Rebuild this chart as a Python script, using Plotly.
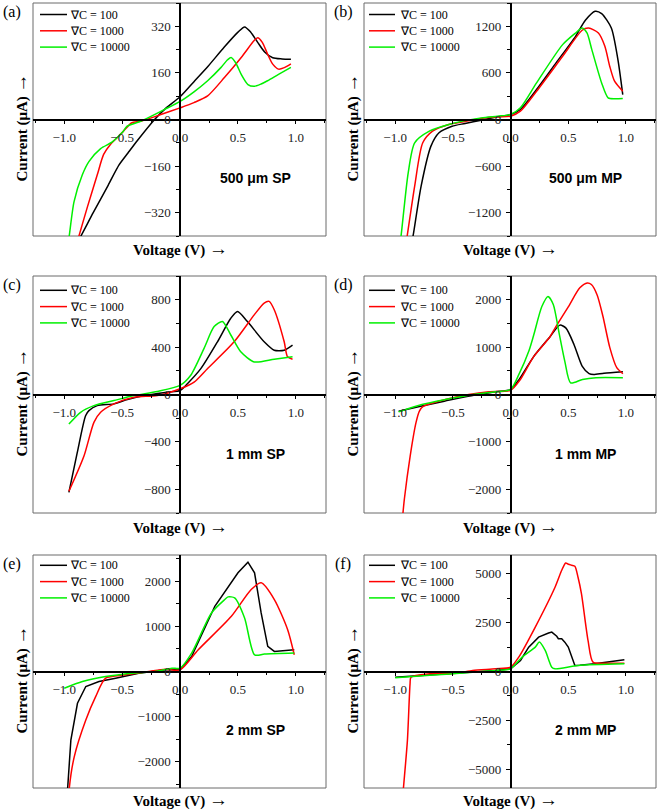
import plotly.graph_objects as go

W, H = 661, 811

SERIES_NAMES = ["∇C = 100", "∇C = 1000", "∇C = 10000"]
SERIES_COLORS = ["#000000", "#ff0000", "#00f000"]
X_RANGE = [-1.27, 1.26]
X_TICK_STEP = 0.5

# ---------------- (a) 500 µm SP ----------------
a_x100 = [-0.90, -0.867, -0.75, -0.62, -0.527, -0.45, -0.37, -0.22, -0.12, 0.0, 0.12, 0.24, 0.38, 0.50, 0.557, 0.61, 0.67, 0.73, 0.80, 0.88, 0.957]
a_y100 = [-430, -408, -320, -225, -156, -115, -73, 0, 40, 78, 130, 182, 248, 300, 318, 300, 265, 232, 212, 208, 207]
a_x1000 = [-0.895, -0.879, -0.80, -0.715, -0.66, -0.60, -0.50, -0.42, -0.34, -0.166, 0.0, 0.12, 0.238, 0.383, 0.528, 0.64, 0.67, 0.71, 0.755, 0.80, 0.85, 0.90, 0.957]
a_y1000 = [-430, -408, -300, -190, -120, -85, -45, -12, -6, 17, 40, 58, 81, 144, 213, 271, 281, 265, 225, 190, 173, 178, 191]
a_x10000 = [-0.975, -0.96, -0.916, -0.844, -0.786, -0.686, -0.588, -0.50, -0.457, -0.34, -0.137, 0.0, 0.12, 0.238, 0.354, 0.41, 0.44, 0.48, 0.528, 0.586, 0.64, 0.70, 0.755, 0.85, 0.957]
a_y10000 = [-440, -408, -283, -190, -144, -100, -78, -45, -23, -6, 34, 62, 95, 133, 179, 205, 213, 195, 155, 120, 114, 122, 133, 155, 179]

# ---------------- (b) 500 µm MP ----------------
b_x100 = [-0.868, -0.845, -0.775, -0.690, -0.62, -0.507, -0.394, -0.254, -0.113, 0.0, 0.085, 0.225, 0.394, 0.563, 0.648, 0.732, 0.789, 0.873, 0.93, 0.972]
b_y100 = [-1671, -1500, -857, -343, -171, -86, -51, -9, 34, 64, 129, 386, 729, 1071, 1277, 1393, 1363, 1179, 771, 321]
b_x1000 = [-0.915, -0.896, -0.831, -0.761, -0.676, -0.535, -0.394, -0.254, -0.113, 0.0, 0.085, 0.225, 0.451, 0.62, 0.676, 0.761, 0.817, 0.859, 0.901, 0.972]
b_y1000 = [-1671, -1500, -857, -300, -150, -64, -26, 13, 34, 43, 107, 364, 814, 1149, 1179, 1114, 943, 686, 493, 364]
b_x10000 = [-0.966, -0.949, -0.887, -0.831, -0.704, -0.535, -0.254, -0.113, 0.0, 0.085, 0.225, 0.451, 0.563, 0.62, 0.662, 0.704, 0.789, 0.845, 0.901, 0.972]
b_y10000 = [-1671, -1500, -686, -300, -150, -64, 21, 43, 64, 150, 471, 964, 1114, 1179, 1114, 900, 471, 279, 266, 270]

# ---------------- (c) 1 mm SP ----------------
c_x100 = [-0.96, -0.888, -0.816, -0.787, -0.715, -0.571, -0.455, -0.311, -0.11, 0.0, 0.063, 0.179, 0.323, 0.438, 0.496, 0.582, 0.726, 0.813, 0.899, 0.971]
c_y100 = [-826, -491, -179, -136, -94, -79, -43, -9, 20, 34, 91, 218, 445, 644, 700, 615, 445, 374, 374, 417]
c_x1000 = [-0.96, -0.83, -0.744, -0.686, -0.571, -0.398, -0.196, 0.0, 0.121, 0.236, 0.467, 0.64, 0.726, 0.769, 0.813, 0.899, 0.928, 0.971]
c_y1000 = [-817, -519, -235, -150, -79, -23, -9, 48, 105, 218, 445, 672, 772, 786, 715, 445, 318, 298]
c_x10000 = [-0.96, -0.859, -0.744, -0.571, -0.398, -0.196, 0.0, 0.092, 0.207, 0.294, 0.366, 0.438, 0.524, 0.64, 0.813, 0.971]
c_y10000 = [-250, -150, -94, -51, -9, 26, 77, 162, 389, 573, 616, 502, 360, 275, 298, 318]

# ---------------- (d) 1 mm MP ----------------
d_x100 = [-0.97, -0.779, -0.574, -0.368, -0.132, 0.0, 0.074, 0.2, 0.34, 0.427, 0.48, 0.55, 0.62, 0.68, 0.72, 0.81, 0.973]
d_y100 = [-353, -247, -141, -35, 57, 106, 318, 800, 1213, 1464, 1400, 1050, 600, 440, 420, 450, 481]
d_x1000 = [-0.94, -0.92, -0.87, -0.82, -0.79, -0.754, -0.565, -0.362, -0.188, 0.0, 0.08, 0.2, 0.34, 0.39, 0.5, 0.6, 0.664, 0.70, 0.75, 0.80, 0.86, 0.92, 0.973]
d_y1000 = [-2700, -2200, -1300, -600, -350, -247, -106, 0, 60, 90, 300, 800, 1213, 1420, 1850, 2250, 2354, 2320, 2100, 1650, 989, 565, 438]
d_x10000 = [-0.97, -0.768, -0.565, -0.362, -0.13, 0.0, 0.072, 0.16, 0.2, 0.27, 0.324, 0.37, 0.42, 0.47, 0.52, 0.623, 0.74, 0.973]
d_y10000 = [-367, -212, -106, -14, 57, 106, 424, 929, 1250, 1850, 2069, 1900, 1300, 700, 247, 318, 353, 353]

# ---------------- (e) 2 mm SP ----------------
e_x100 = [-0.975, -0.971, -0.943, -0.886, -0.814, -0.70, -0.557, -0.357, -0.129, 0.0, 0.1, 0.3, 0.5, 0.586, 0.643, 0.70, 0.757, 0.814, 0.986]
e_y100 = [-3000, -2593, -1518, -704, -333, -222, -148, -37, 37, 37, 333, 1444, 2185, 2422, 2185, 1296, 556, 444, 481]
e_x1000 = [-0.965, -0.957, -0.914, -0.814, -0.729, -0.643, -0.471, -0.271, -0.129, 0.0, 0.157, 0.443, 0.614, 0.70, 0.814, 0.929, 0.986]
e_y1000 = [-3000, -2593, -1889, -1074, -556, -148, -74, 0, 52, 37, 481, 1222, 1815, 1963, 1593, 926, 370]
e_x10000 = [-1.0, -0.843, -0.643, -0.414, -0.214, -0.071, 0.0, 0.1, 0.271, 0.386, 0.414, 0.471, 0.557, 0.643, 0.729, 0.986]
e_y10000 = [-370, -222, -111, -37, 0, 74, 74, 407, 1296, 1593, 1652, 1630, 1185, 370, 385, 407]

# ---------------- (f) 2 mm MP ----------------
f_x100 = [-1.0, -0.786, -0.557, -0.329, -0.129, 0.0, 0.086, 0.157, 0.243, 0.329, 0.357, 0.40, 0.414, 0.443, 0.47, 0.50, 0.557, 0.60, 0.729, 0.986]
f_y100 = [-290, -205, -120, -34, 51, 136, 563, 1245, 1757, 1962, 2013, 1800, 1672, 1672, 1500, 1245, 307, 320, 392, 597]
f_x1000 = [-0.935, -0.929, -0.894, -0.871, -0.863, -0.70, -0.471, -0.329, -0.129, 0.0, 0.071, 0.214, 0.386, 0.443, 0.477, 0.50, 0.529, 0.557, 0.585, 0.614, 0.671, 0.714, 0.814, 0.986]
f_y1000 = [-6500, -6005, -3531, -631, -290, -120, -85, 51, 136, 222, 734, 2269, 4316, 5169, 5545, 5480, 5425, 5374, 4800, 3975, 1587, 478, 427, 427]
f_x10000 = [-1.0, -0.786, -0.557, -0.329, -0.129, 0.0, 0.1, 0.214, 0.249, 0.3, 0.357, 0.386, 0.586, 0.986]
f_y10000 = [-324, -230, -140, -40, 50, 136, 734, 1245, 1501, 1075, 222, 136, 307, 392]

PANELS = [
    dict(letter="(a)", label="500 μm SP", yr=[-400, 400], dt=160,
         data=[(a_x100, a_y100), (a_x1000, a_y1000), (a_x10000, a_y10000)], spline=[True, True, True]),
    dict(letter="(b)", label="500 μm MP", yr=[-1500, 1500], dt=600,
         data=[(b_x100, b_y100), (b_x1000, b_y1000), (b_x10000, b_y10000)], spline=[True, True, True]),
    dict(letter="(c)", label="1 mm SP", yr=[-1000, 1000], dt=400,
         data=[(c_x100, c_y100), (c_x1000, c_y1000), (c_x10000, c_y10000)], spline=[True, True, True]),
    dict(letter="(d)", label="1 mm MP", yr=[-2500, 2500], dt=1000,
         data=[(d_x100, d_y100), (d_x1000, d_y1000), (d_x10000, d_y10000)], spline=[True, True, True]),
    dict(letter="(e)", label="2 mm SP", yr=[-2580, 2580], dt=1000,
         data=[(e_x100, e_y100), (e_x1000, e_y1000), (e_x10000, e_y10000)], spline=[False, True, True]),
    dict(letter="(f)", label="2 mm MP", yr=[-5950, 5950], dt=2500,
         data=[(f_x100, f_y100), (f_x1000, f_y1000), (f_x10000, f_y10000)], spline=[False, True, True]),
]

# layout geometry (pixels)
COLS = [(33, 326), (364, 656)]
ROWS = [(3, 236), (276, 513), (555, 788)]
LEGEND_ROW0 = [11.5, 14.3, 10.3]   # first legend row offset below panel top
LEGEND_STEP = 16.3
LEGEND_LINE = [(7, 34, 35), (5, 31, 34)]  # line start, line end, text start (from panel left)

def px_x(p):
    return p / W

def px_y(p):
    return 1 - p / H

fig = go.Figure()
layout = dict(width=W, height=H, margin=dict(l=0, r=0, t=0, b=0),
              paper_bgcolor="white", plot_bgcolor="white", shapes=[], annotations=[],
              showlegend=False)

SERIF = "Liberation Serif, Times New Roman, serif"
SANS = "Liberation Sans, Arial, sans-serif"
ARROW = '<span style="font-size:19px">→</span>'

for i, p in enumerate(PANELS):
    n = i + 1
    sfx = "" if n == 1 else str(n)
    ci, ri = i % 2, i // 2
    col = COLS[ci]
    row = ROWS[ri]
    xd = [px_x(col[0]), px_x(col[1])]
    yd = [px_y(row[1]), px_y(row[0])]
    yr = p["yr"]
    # paper positions of the zero lines
    xpos = xd[0] + (0 - X_RANGE[0]) / (X_RANGE[1] - X_RANGE[0]) * (xd[1] - xd[0])
    ypos = yd[0] + (0 - yr[0]) / (yr[1] - yr[0]) * (yd[1] - yd[0])
    tickfont = dict(family=SERIF, size=13, color="#222222")
    layout["xaxis" + sfx] = dict(
        domain=xd, range=X_RANGE, anchor="free", position=ypos,
        showline=True, linecolor="black", linewidth=1.5,
        ticks="outside", ticklen=4, tickwidth=1, tickcolor="black",
        tick0=0, dtick=X_TICK_STEP, tickformat=".1f",
        minor=dict(ticks="outside", ticklen=3, dtick=X_TICK_STEP / 2, tickcolor="black", showgrid=False),
        showgrid=False, zeroline=False, tickfont=tickfont, ticklabelstandoff=2,
    )
    layout["yaxis" + sfx] = dict(
        domain=yd, range=yr, anchor="free", position=xpos,
        showline=True, linecolor="black", linewidth=1.5,
        ticks="outside", ticklen=4, tickwidth=1, tickcolor="black",
        tick0=0, dtick=p["dt"],
        minor=dict(ticks="outside", ticklen=3, dtick=p["dt"] / 2, tickcolor="black", showgrid=False),
        showgrid=False, zeroline=False, tickfont=tickfont, ticklabelstandoff=2,
    )
    xref = "x" + sfx
    yref = "y" + sfx
    # frame
    layout["shapes"].append(dict(type="rect", xref=xref + " domain", yref=yref + " domain",
                                 x0=0, x1=1, y0=0, y1=1, line=dict(color="#6a6a6a", width=1),
                                 layer="below"))
    for k, (xs, ys) in enumerate(p["data"]):
        fig.add_trace(go.Scatter(
            x=xs, y=ys, mode="lines", name=SERIES_NAMES[k],
            line=dict(color=SERIES_COLORS[k], width=1.5,
                      shape="spline" if p["spline"][k] else "linear", smoothing=0.7),
            xaxis=xref, yaxis=yref, hoverinfo="skip",
        ))
        # legend key (drawn in paper space)
        ly = px_y(row[0] + LEGEND_ROW0[ri] + k * LEGEND_STEP)
        l0, l1, lt = LEGEND_LINE[ci]
        layout["shapes"].append(dict(type="line", xref="paper", yref="paper",
                                     x0=px_x(col[0] + l0), x1=px_x(col[0] + l1), y0=ly, y1=ly,
                                     line=dict(color=SERIES_COLORS[k], width=1.5)))
        layout["annotations"].append(dict(text=SERIES_NAMES[k], xref="paper", yref="paper",
                                          x=px_x(col[0] + lt), y=ly, xanchor="left", yanchor="middle",
                                          showarrow=False,
                                          font=dict(family=SERIF, size=12, color="black")))
    # panel letter
    layout["annotations"].append(dict(text=p["letter"], xref="paper", yref="paper",
                                      x=px_x(col[0] - 21), y=px_y(row[0] + 9),
                                      xanchor="center", yanchor="middle", showarrow=False,
                                      font=dict(family=SERIF, size=16, color="black")))
    # sample label
    layout["annotations"].append(dict(text="<b>" + p["label"] + "</b>", xref="paper", yref="paper",
                                      x=px_x(col[0] + 0.76 * (col[1] - col[0])),
                                      y=px_y(row[0] + 0.75 * (row[1] - row[0])),
                                      xanchor="center", yanchor="middle", showarrow=False,
                                      font=dict(family=SANS, size=14, color="black")))
    # axis titles
    layout["annotations"].append(dict(text="<b>Voltage (V) </b>" + ARROW, xref="paper", yref="paper",
                                      x=xpos, y=px_y(min(row[1] + 13, 799)),
                                      xanchor="center", yanchor="middle", showarrow=False,
                                      font=dict(family=SERIF, size=15, color="black")))
    layout["annotations"].append(dict(text="<b>Current (μA) </b>" + ARROW, xref="paper", yref="paper",
                                      x=px_x(col[0] - 13), y=px_y((row[0] + row[1]) / 2 + 8),
                                      xanchor="center", yanchor="middle", showarrow=False,
                                      textangle=-90,
                                      font=dict(family=SERIF, size=15, color="black")))

fig.update_layout(**layout)
fig.write_html("out.html", config={"displayModeBar": False},
               post_script="document.body.style.margin='0px';document.body.style.overflow='hidden';")
